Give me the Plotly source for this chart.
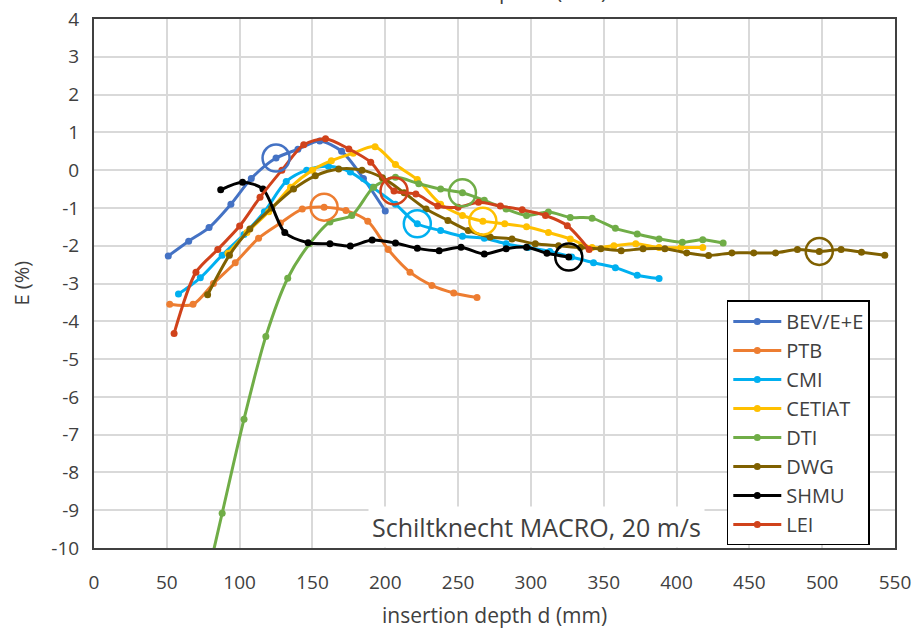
import plotly.graph_objects as go

# Insertion depth d (mm) and deviation E (%) per laboratory
bev_x = [51, 65, 79, 94, 108, 125, 140, 155, 170, 185, 200]
bev_y = [-2.27, -1.88, -1.52, -0.9, -0.22, 0.32, 0.55, 0.77, 0.5, -0.22, -1.08]

ptb_x = [52, 68, 82, 97, 113, 128, 143, 158, 173, 188, 202, 217, 232, 247, 263]
ptb_y = [-3.55, -3.55, -3.0, -2.45, -1.8, -1.4, -1.03, -0.98, -1.07, -1.35,
         -2.1, -2.7, -3.05, -3.25, -3.37]

cmi_x = [58, 73, 88, 103, 117, 132, 146, 161, 176, 191, 207, 222, 238, 253,
         268, 283, 298, 313, 328, 343, 358, 373, 388]
cmi_y = [-3.28, -2.85, -2.25, -1.7, -1.1, -0.3, 0.0, 0.1, -0.05, -0.45, -0.9,
         -1.42, -1.6, -1.75, -1.8, -1.95, -2.05, -2.15, -2.3, -2.45, -2.58,
         -2.78, -2.87]

cetiat_x = [92, 105, 120, 135, 150, 163, 178, 193, 207, 222, 238, 253, 267,
            282, 297, 312, 327, 342, 357, 372, 388, 403, 418]
cetiat_y = [-2.2, -1.65, -1.1, -0.45, 0.0, 0.25, 0.45, 0.62, 0.15, -0.25, -0.9,
            -1.2, -1.35, -1.42, -1.5, -1.65, -1.82, -2.05, -2.0, -1.95, -2.05,
            -2.05, -2.05]

dti_x = [73, 88, 103, 118, 133, 148, 162, 177, 192, 207, 223, 238, 253, 268,
         283, 297, 312, 327, 342, 358, 373, 388, 404, 418, 432]
dti_y = [-11.6, -9.08, -6.59, -4.4, -2.86, -1.95, -1.37, -1.2, -0.45, -0.19,
         -0.36, -0.5, -0.6, -0.8, -1.03, -1.2, -1.11, -1.25, -1.27, -1.54,
         -1.69, -1.82, -1.91, -1.84, -1.93]

dwg_x = [78, 93, 107, 122, 137, 152, 168, 184, 198, 213, 228, 243, 257, 272,
         287, 303, 319, 334, 348, 362, 377, 392, 407, 422, 438, 453, 468, 483,
         498, 513, 527, 543]
dwg_y = [-3.3, -2.25, -1.56, -1.0, -0.5, -0.15, 0.03, 0.0, -0.2, -0.6, -1.03,
         -1.33, -1.6, -1.77, -1.82, -1.95, -2.0, -2.05, -2.08, -2.13, -2.08,
         -2.08, -2.19, -2.26, -2.19, -2.19, -2.19, -2.1, -2.15, -2.1, -2.17,
         -2.25]

shmu_x = [87, 102, 116, 131, 147, 162, 176, 191, 207, 222, 237, 252, 268, 283,
          297, 311, 326]
shmu_y = [-0.52, -0.32, -0.5, -1.65, -1.92, -1.95, -2.01, -1.85, -1.93, -2.07,
          -2.13, -2.04, -2.22, -2.08, -2.04, -2.2, -2.3]

lei_x = [55, 70, 85, 100, 114, 129, 144, 159, 175, 190, 206, 221, 236, 250,
         264, 279, 294, 310, 325, 340]
lei_y = [-4.32, -2.7, -2.1, -1.48, -0.72, 0.0, 0.67, 0.83, 0.56, 0.21, -0.55,
         -0.63, -0.95, -0.98, -0.85, -0.95, -1.05, -1.2, -1.47, -2.1]

names = ["BEV/E+E", "PTB", "CMI", "CETIAT", "DTI", "DWG", "SHMU", "LEI"]
colors = ["#4472C4", "#ED7D31", "#00B0F0", "#FFC000", "#70AD47", "#7F6000",
          "#000000", "#D0421B"]
xs = [bev_x, ptb_x, cmi_x, cetiat_x, dti_x, dwg_x, shmu_x, lei_x]
ys = [bev_y, ptb_y, cmi_y, cetiat_y, dti_y, dwg_y, shmu_y, lei_y]
# index of the highlighted (encircled) point in each series
marked = [5, 7, 11, 12, 12, 28, 16, 10]

x_ticks = list(range(0, 551, 50))
y_ticks = list(range(-10, 5, 1))
y_labels = [str(v) for v in y_ticks]  # plain hyphen for negatives

FONT = "Open Sans"
TXT = "#404040"

fig = go.Figure()
for name, col, x, y in zip(names, colors, xs, ys):
    fig.add_trace(go.Scatter(
        x=x, y=y, name=name, mode="lines+markers",
        line=dict(color=col, width=3, shape="spline", smoothing=0.8),
        marker=dict(color=col, size=7),
    ))

for col, x, y, i in zip(colors, xs, ys, marked):
    fig.add_trace(go.Scatter(
        x=[x[i]], y=[y[i]], mode="markers", showlegend=False, hoverinfo="skip",
        marker=dict(symbol="circle-open", size=27, color=col,
                    line=dict(width=2.5, color=col)),
    ))

axis_common = dict(
    showgrid=True, gridcolor="#D9D9D9", gridwidth=1.5, zeroline=False,
    showline=True, mirror=True, linecolor="#404040", linewidth=2,
    ticks="", automargin=False,
    tickfont=dict(family=FONT, size=19, color=TXT),
)

fig.update_layout(
    width=917, height=633,
    margin=dict(l=94, r=22, t=19, b=85),
    paper_bgcolor="white", plot_bgcolor="white",
    xaxis=dict(range=[0, 550], tickvals=x_ticks, ticklabelstandoff=16,
               **axis_common),
    yaxis=dict(range=[-10, 4], tickvals=y_ticks, ticktext=y_labels,
               ticklabelstandoff=9, **axis_common),
    legend=dict(
        x=0.79, y=0.468, xanchor="left", yanchor="top",
        bgcolor="white", bordercolor="#000000", borderwidth=1.5,
        font=dict(family=FONT, size=20, color=TXT),
        itemwidth=48, tracegroupgap=0,
    ),
    annotations=[
        dict(text="Schiltknecht MACRO, 20 m/s", xref="paper", yref="paper",
             x=0.553, y=0.04, xanchor="center", yanchor="middle",
             showarrow=False, bgcolor="white", borderpad=3,
             font=dict(family=FONT, size=25, color=TXT)),
        dict(text="insertion depth d (mm)", xref="paper", yref="paper",
             x=0.5, y=0, xanchor="center", yanchor="middle", yshift=-67,
             showarrow=False, font=dict(family=FONT, size=21, color=TXT)),
        dict(text="insertion depth d (mm)", xref="paper", yref="paper",
             x=0.5, y=1, xanchor="center", yanchor="bottom", yshift=12,
             showarrow=False, font=dict(family=FONT, size=21, color=TXT)),
        dict(text="E (%)", xref="paper", yref="paper", x=0, y=0.5,
             xanchor="center", yanchor="middle", xshift=-73, textangle=-90,
             showarrow=False, font=dict(family=FONT, size=20, color=TXT)),
    ],
)

fig.write_html("out.html")
